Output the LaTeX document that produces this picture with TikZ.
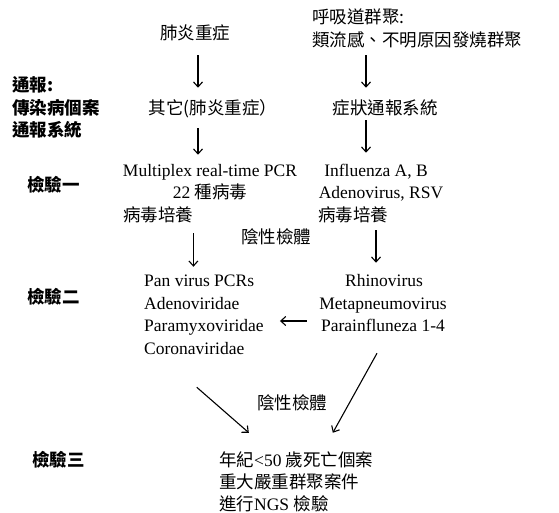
\documentclass[tikz,border=0pt]{standalone}
\usepackage{fontspec}
\setmainfont{Liberation Serif}
\newfontfamily\cjk{Noto Sans CJK TC}
\usetikzlibrary{arrows.meta}
\tikzset{
  txt/.style={inner sep=0pt, text height=13.3pt, text depth=0pt,
    font=\fontsize{17.5pt}{22pt}\selectfont},
  lbl/.style={txt, anchor=west, font=\fontsize{17.5pt}{22pt}\selectfont\cjk\bfseries},
  arr/.style={draw=black, line width=1.1pt, -{Straight Barb[length=5pt,width=9pt,line width=1.1pt]}}
}
\begin{document}
\begin{tikzpicture}[x=1pt,y=-1pt]
\useasboundingbox (0,0) rectangle (559,513);
% left labels
\node[lbl] (tb1) at (12,85) {通報:};
\node[lbl] (tb2) at (12,108) {傳染病個案};
\node[lbl] (tb3) at (12,130) {通報系統};
\node[lbl] (k1) at (27,185) {檢驗一};
\node[lbl] (k2) at (27,297) {檢驗二};
\node[lbl] (k3) at (32,460) {檢驗三};
% left column
\node[txt] (a1) at (195,33) {\cjk 肺炎重症};
\node[txt] (a2) at (213,108) {\cjk 其它(肺炎重症）};
\node[txt] (a3) at (210,170) {Multiplex real-time PCR};
\node[txt] (a4) at (210,192) {22 {\cjk 種病毒}};
\node[txt,anchor=west] (a5) at (123,215) {\cjk 病毒培養};
\node[txt,anchor=west] (a6) at (144,280) {Pan virus PCRs};
\node[txt,anchor=west] (a7) at (144,303) {Adenoviridae};
\node[txt,anchor=west] (a8) at (144,325) {Paramyxoviridae};
\node[txt,anchor=west] (a9) at (144,348) {Coronaviridae};
% right column
\node[txt,anchor=west] (b1a) at (312,17) {\cjk 呼吸道群聚:};
\node[txt,anchor=west] (b1b) at (312,40) {\cjk 類流感、不明原因發燒群聚};
\node[txt] (b2) at (385,108) {\cjk 症狀通報系統};
\node[txt] (b3) at (376,170) {Influenza A, B};
\node[txt] (b4) at (381,192) {Adenovirus, RSV};
\node[txt,anchor=west] (b5) at (318,215) {\cjk 病毒培養};
\node[txt] (b6) at (384,280) {Rhinovirus};
\node[txt] (b7) at (383,303) {Metapneumovirus};
\node[txt] (b8) at (383,325) {Parainfluneza 1-4};
% middle labels
\node[txt,anchor=west] (n1) at (241,237) {\cjk 陰性檢體};
\node[txt,anchor=west] (n2) at (257,403) {\cjk 陰性檢體};
% bottom
\node[txt,anchor=west] (c1) at (219,460) {{\cjk 年紀}<50 {\cjk 歲死亡個案}};
\node[txt,anchor=west] (c2) at (219,482) {\cjk 重大嚴重群聚案件};
\node[txt,anchor=west] (c3) at (219,504) {{\cjk 進行}NGS {\cjk 檢驗}};
% arrows
\draw[arr, shorten <=15.4pt, shorten >=13.4pt] ([xshift=3pt]a1.south) -- ([xshift=3pt]a1.south |- a2.north);
\draw[arr, shorten <=8.4pt, shorten >=13.4pt] ([xshift=-19pt]b2.north |- b1b.south) -- ([xshift=-19pt]b2.north);
\draw[arr, shorten <=13.4pt, shorten >=8.4pt] ([xshift=-12pt]a3.north |- a2.south) -- ([xshift=-12pt]a3.north);
\draw[arr, shorten <=5.4pt, shorten >=10.4pt] ([xshift=-19pt]b2.south) -- ([xshift=-19pt]b2.south |- b3.north);
\draw[arr, shorten <=11.4pt, shorten >=6.4pt] (a5.south east) -- (a5.south east |- a6.north);
\draw[arr, shorten <=8.4pt, shorten >=10.4pt] ([xshift=-8pt]b6.north |- b5.south) -- ([xshift=-8pt]b6.north);
\draw[arr, shorten <=14pt, shorten >=16pt] ([yshift=4pt]b8.west) -- ([yshift=4pt]b8.west -| a8.east);
\draw[arr] ([xshift=2.5pt,yshift=-32.4pt]a9.south) -- ([xshift=-47.5pt,yshift=20.4pt]c1.north);
\draw[arr] ([xshift=-6pt,yshift=-21.4pt]b8.south) -- ([xshift=36.5pt,yshift=20.4pt]c1.north);
\end{tikzpicture}
\end{document}
